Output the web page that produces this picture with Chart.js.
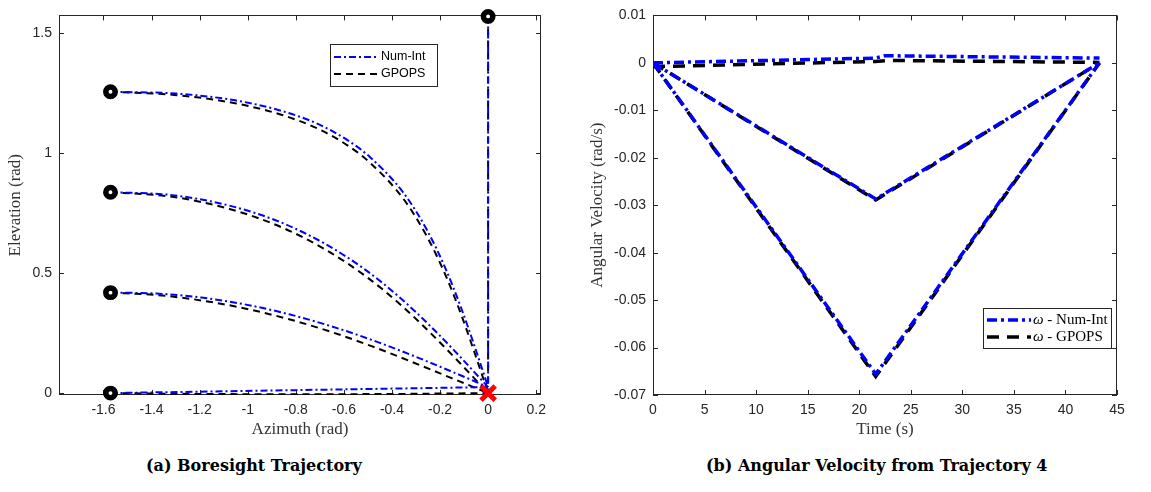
<!DOCTYPE html>
<html>
<head>
<meta charset="utf-8">
<script src="https://cdn.jsdelivr.net/npm/chart.js@4.4.0/dist/chart.umd.min.js"></script>
<style>
body{margin:0;background:#fff;width:1151px;height:492px;position:relative;overflow:hidden}
.box{position:absolute;top:0;height:445px}
#b1{left:0;width:575px}
#b2{left:575px;width:576px}
.cap{position:absolute;top:456px;font-family:"DejaVu Serif",serif;font-weight:bold;font-size:16px;color:#000;white-space:nowrap}
</style>
</head>
<body>
<div class="box" id="b1"><canvas id="trajChart" width="575" height="445"></canvas></div>
<div class="box" id="b2"><canvas id="omegaChart" width="576" height="445"></canvas></div>
<div class="cap" style="left:146px">(a) Boresight Trajectory</div>
<div class="cap" style="left:706px">(b) Angular Velocity from Trajectory 4</div>
<script>
// ---- (a) boresight trajectories: azimuth / elevation (rad)
var az1 = [-1.5708,-1.2957,-1.0523,-0.8565,-0.7039,-0.5851,-0.4918,-0.3528,-0.2537,-0.1766,-0.1120,-0.0544,0];
var el1Num = [1.2566,1.2489,1.2207,1.1759,1.1204,1.0549,0.9843,0.8359,0.6787,0.5177,0.3545,0.1900,0.025];
var el1Gp  = [1.2566,1.2425,1.2085,1.1595,1.1006,1.0332,0.9611,0.8105,0.6517,0.4905,0.3273,0.1629,0];

var az2 = [-1.5708,-1.3135,-1.0723,-0.8590,-0.6734,-0.5116,-0.3688,-0.2389,-0.1175,0];
var el2Num = [0.8378,0.8255,0.7807,0.7107,0.6196,0.5150,0.3999,0.2781,0.1525,0.025];
var el2Gp  = [0.8378,0.8184,0.7668,0.6914,0.5963,0.4891,0.3728,0.2499,0.1254,0];

var az3 = [-1.5708,-1.3802,-1.1920,-1.0071,-0.8279,-0.6540,-0.4851,-0.3210,-0.1597,0];
var el3Num = [0.4189,0.4152,0.3982,0.3689,0.3287,0.2791,0.2221,0.1595,0.0932,0.025];
var el3Gp  = [0.4189,0.4092,0.3862,0.3519,0.3079,0.2555,0.1958,0.1316,0.0657,0];

var az4 = [-1.5708,-1.2,-0.8,-0.4,0];
var el4Num = [0,0.0059,0.0123,0.0186,0.025];
var el4Gp  = [0,-0.004,-0.005,-0.004,0];

var az5 = [0,0];
var el5Num = [1.5708,0.025];
var el5Gp  = [1.5708,0];

var startAz = [-1.5708,-1.5708,-1.5708,-1.5708,0];
var startEl = [1.2566,0.8378,0.4189,0,1.5708];
var endAz = [0];
var endEl = [0];

var azTicks = [-1.6,-1.4,-1.2,-1,-0.8,-0.6,-0.4,-0.2,0,0.2];
var azTickLabels = ['-1.6','-1.4','-1.2','-1','-0.8','-0.6','-0.4','-0.2','0','0.2'];
var elTicks = [0,0.5,1,1.5];
var elTickLabels = ['0','0.5','1','1.5'];

// ---- (b) angular velocity, trajectory 4
var tNearNum = [0,21.6,22.5,43.3];
var wNearNum = [0,0.0010,0.0015,0.0010];
var tNearGp  = [0,21.6,23.0,43.3];
var wNearGp  = [-0.0008,0.0003,0.0005,0.0001];
var tV = [0,21.6,43.3];
var wMidNum = [0,-0.0287,0];
var wMidGp  = [0,-0.0289,0];
var wLowNum = [0,-0.0656,0];
var wLowGp  = [0,-0.0661,0];

var timeTicks = [0,5,10,15,20,25,30,35,40,45];
var timeTickLabels = ['0','5','10','15','20','25','30','35','40','45'];
var wTicks = [-0.07,-0.06,-0.05,-0.04,-0.03,-0.02,-0.01,0,0.01];
var wTickLabels = ['-0.07','-0.06','-0.05','-0.04','-0.03','-0.02','-0.01','0','0.01'];

function pts(xs, ys) {
  return xs.map(function(v, i){ return {x: v, y: ys[i]}; });
}

var frameTicks = {
  id: 'frameTicks',
  beforeDatasetsDraw: function(chart, args, o) {
    var ctx = chart.ctx, a = chart.chartArea, x = chart.scales.x, y = chart.scales.y;
    ctx.save();
    ctx.strokeStyle = '#262626';
    ctx.lineWidth = 1;
    ctx.strokeRect(Math.round(a.left)+0.5, Math.round(a.top)+0.5, Math.round(a.right-a.left)-1, Math.round(a.bottom-a.top)-1);
    ctx.beginPath();
    x.ticks.forEach(function(t){
      var p = Math.round(x.getPixelForValue(t.value))+0.5;
      ctx.moveTo(p, a.bottom); ctx.lineTo(p, a.bottom-5);
      ctx.moveTo(p, a.top); ctx.lineTo(p, a.top+5);
    });
    y.ticks.forEach(function(t){
      var p = Math.round(y.getPixelForValue(t.value))+0.5;
      ctx.moveTo(a.left, p); ctx.lineTo(a.left+5, p);
      ctx.moveTo(a.right, p); ctx.lineTo(a.right-5, p);
    });
    ctx.stroke();
    ctx.restore();
  },
  afterDraw: function(chart, args, o) {
    var ctx = chart.ctx, a = chart.chartArea;
    ctx.save();
    ctx.fillStyle = '#333';
    ctx.font = '17px "Liberation Serif"';
    ctx.textAlign = 'center';
    ctx.textBaseline = 'middle';
    ctx.fillText(o.xTitle, (a.left+a.right)/2, 430);
    ctx.translate(o.yTitleX, (a.top+a.bottom)/2);
    ctx.rotate(-Math.PI/2);
    ctx.fillText(o.yTitle, 0, 0);
    ctx.restore();

    var L = o.legend;
    ctx.save();
    ctx.fillStyle = '#fff';
    ctx.fillRect(L.x, L.y, L.w, L.h);
    ctx.strokeStyle = '#262626';
    ctx.lineWidth = 1;
    ctx.strokeRect(L.x+0.5, L.y+0.5, L.w, L.h);
    L.items.forEach(function(it, i){
      var yy = L.y + L.rowTop + i*L.rowGap;
      ctx.beginPath();
      ctx.setLineDash(it.dash);
      ctx.strokeStyle = it.color;
      ctx.lineWidth = it.width;
      ctx.moveTo(L.x+L.lineX0, yy); ctx.lineTo(L.x+L.lineX1, yy);
      ctx.stroke();
      ctx.setLineDash([]);
      ctx.fillStyle = '#000';
      ctx.textBaseline = 'middle';
      ctx.textAlign = 'left';
      var tx = L.x + L.textX;
      if (it.sym) {
        ctx.font = 'italic ' + L.font;
        ctx.fillText(it.sym, tx, yy);
        tx += ctx.measureText(it.sym).width;
      }
      ctx.font = L.font;
      ctx.fillText(it.label, tx, yy);
    });
    ctx.restore();
  }
};

var tickFont = {family: 'Liberation Sans', size: 14};

function fixedTicks(vals) {
  return function(axis){ axis.ticks = vals.map(function(v){ return {value: v}; }); };
}

var numA = {borderColor: '#0000ff', borderWidth: 2, borderDash: [7,3,2,3], pointRadius: 0, showLine: true, fill: false};
var gpA  = {borderColor: '#000000', borderWidth: 2, borderDash: [7,5], pointRadius: 0, showLine: true, fill: false};
function ds(base, data, extra) {
  var o = Object.assign({}, base, {data: data});
  return Object.assign(o, extra || {});
}
var mono = {cubicInterpolationMode: 'monotone'};

new Chart(document.getElementById('trajChart'), {
  type: 'scatter',
  data: {
    datasets: [
      {data: pts(endAz, endEl), pointStyle: 'crossRot', pointRadius: 10, borderWidth: 5, borderColor: '#ff0000', backgroundColor: '#ff0000', showLine: false, clip: false},
      {data: pts(startAz, startEl), pointStyle: 'circle', pointRadius: 4.7, borderWidth: 5.5, borderColor: '#000', backgroundColor: '#fff', showLine: false, clip: false},
      ds(numA, pts(az1, el1Num), mono),
      ds(numA, pts(az2, el2Num), mono),
      ds(numA, pts(az3, el3Num), mono),
      ds(numA, pts(az4, el4Num)),
      ds(numA, pts(az5, el5Num)),
      ds(gpA, pts(az1, el1Gp), mono),
      ds(gpA, pts(az2, el2Gp), mono),
      ds(gpA, pts(az3, el3Gp), mono),
      ds(gpA, pts(az4, el4Gp)),
      ds(gpA, pts(az5, el5Gp))
    ]
  },
  options: {
    responsive: false,
    animation: false,
    layout: {padding: {top: 15, right: 34, left: 0, bottom: 0}},
    plugins: {
      legend: {display: false},
      tooltip: {enabled: false},
      frameTicks: {
        xTitle: 'Azimuth (rad)', yTitle: 'Elevation (rad)', yTitleX: 16,
        legend: {x: 330, y: 44, w: 107, h: 42, rowTop: 13, rowGap: 17, lineX0: 4, lineX1: 48, textX: 51,
          font: '12.5px "Liberation Sans"',
          items: [
            {label: 'Num-Int', color: '#0000ff', dash: [7,3,2,3], width: 2},
            {label: 'GPOPS', color: '#000', dash: [7,5], width: 2}
          ]}
      }
    },
    scales: {
      x: {type: 'linear', min: -1.785, max: 0.22,
        afterBuildTicks: fixedTicks(azTicks),
        afterFit: function(s){ s.height = 50; },
        grid: {display: false, drawTicks: false}, border: {display: false},
        ticks: {font: tickFont, color: '#262626', padding: 7, autoSkip: false, maxRotation: 0,
          callback: function(v, i){ return azTickLabels[i]; }}},
      y: {type: 'linear', min: -0.008, max: 1.575,
        afterBuildTicks: fixedTicks(elTicks),
        afterFit: function(s){ s.width = 59; },
        grid: {display: false, drawTicks: false}, border: {display: false},
        ticks: {font: tickFont, color: '#262626', padding: 7, autoSkip: false,
          callback: function(v, i){ return elTickLabels[i]; }}}
    }
  },
  plugins: [frameTicks]
});

var numB = {borderColor: '#0000ff', borderWidth: 3.5, borderDash: [10,4,3,4], pointRadius: 0, showLine: true, fill: false};
var gpB  = {borderColor: '#000000', borderWidth: 3.5, borderDash: [12,8], pointRadius: 0, showLine: true, fill: false};

new Chart(document.getElementById('omegaChart'), {
  type: 'scatter',
  data: {
    datasets: [
      ds(numB, pts(tNearNum, wNearNum)),
      ds(numB, pts(tV, wMidNum)),
      ds(numB, pts(tV, wLowNum)),
      ds(gpB, pts(tNearGp, wNearGp)),
      ds(gpB, pts(tV, wMidGp)),
      ds(gpB, pts(tV, wLowGp))
    ]
  },
  options: {
    responsive: false,
    animation: false,
    layout: {padding: {top: 15, right: 34, left: 0, bottom: 0}},
    plugins: {
      legend: {display: false},
      tooltip: {enabled: false},
      frameTicks: {
        xTitle: 'Time (s)', yTitle: 'Angular Velocity (rad/s)', yTitleX: 23,
        legend: {x: 408, y: 308, w: 128, h: 40, rowTop: 12, rowGap: 17, lineX0: 4, lineX1: 48, textX: 50,
          font: '15px "Liberation Serif"',
          items: [
            {sym: '\u03c9', label: ' - Num-Int', color: '#0000ff', dash: [10,4,3,4], width: 3.5},
            {sym: '\u03c9', label: ' - GPOPS', color: '#000', dash: [12,8], width: 3.5}
          ]}
      }
    },
    scales: {
      x: {type: 'linear', min: 0, max: 45,
        afterBuildTicks: fixedTicks(timeTicks),
        afterFit: function(s){ s.height = 50; },
        grid: {display: false, drawTicks: false}, border: {display: false},
        ticks: {font: tickFont, color: '#262626', padding: 7, autoSkip: false, maxRotation: 0,
          callback: function(v, i){ return timeTickLabels[i]; }}},
      y: {type: 'linear', min: -0.07, max: 0.01,
        afterBuildTicks: fixedTicks(wTicks),
        afterFit: function(s){ s.width = 78; },
        grid: {display: false, drawTicks: false}, border: {display: false},
        ticks: {font: tickFont, color: '#262626', padding: 7, autoSkip: false,
          callback: function(v, i){ return wTickLabels[i]; }}}
    }
  },
  plugins: [frameTicks]
});
</script>
</body>
</html>
